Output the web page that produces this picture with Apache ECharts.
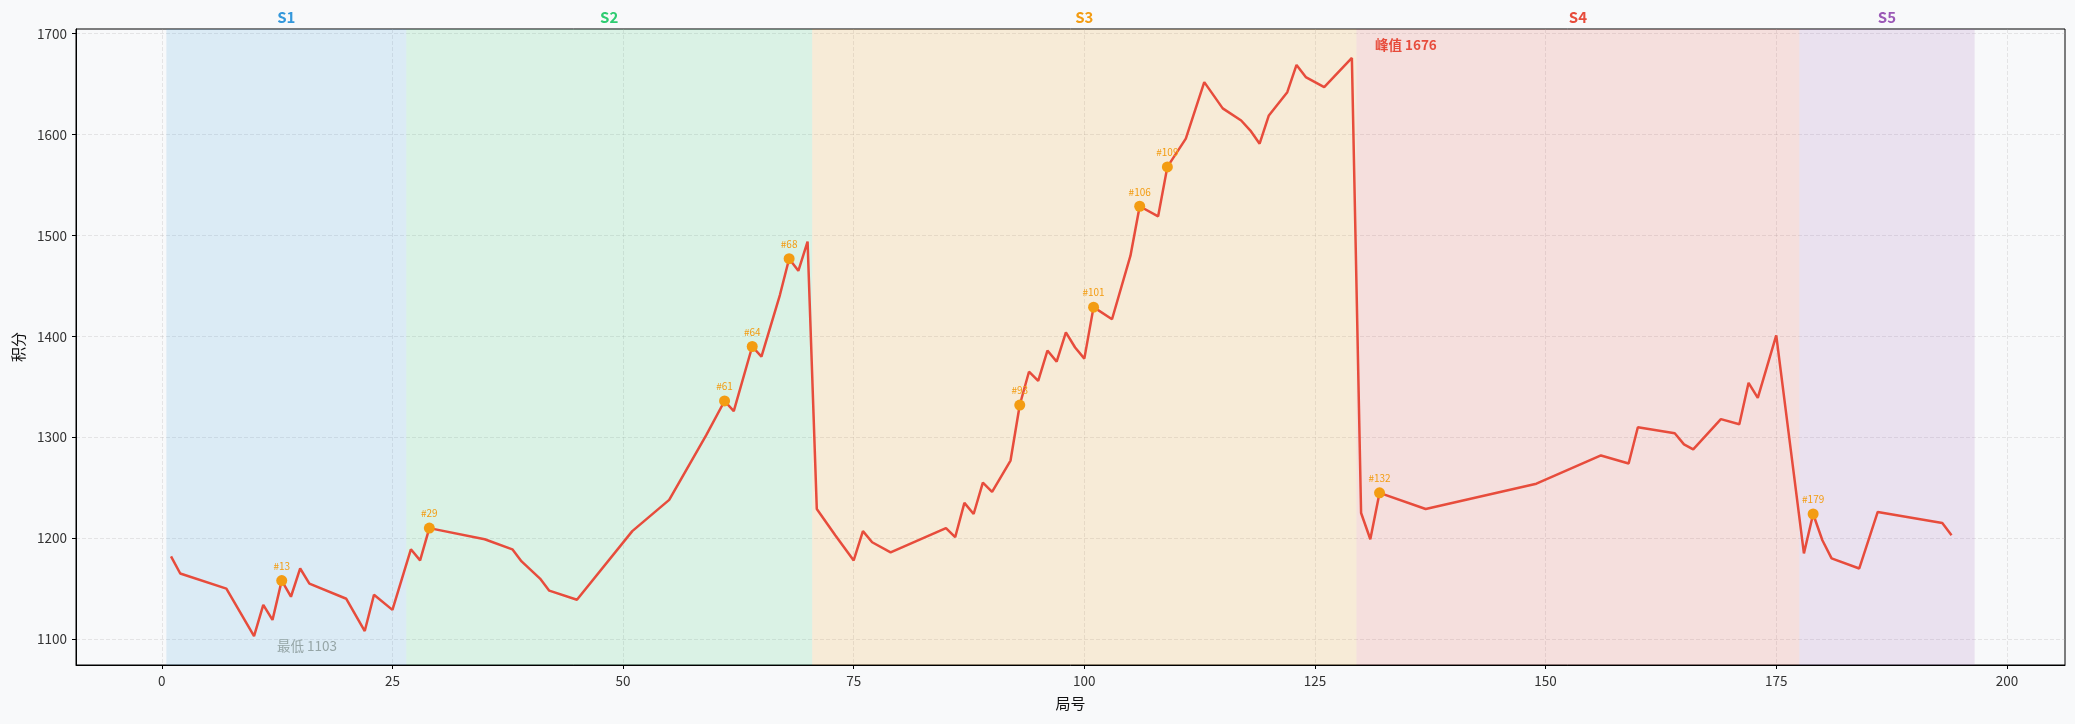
<!DOCTYPE html>
<html>
<head>
<meta charset="utf-8">
<title>积分走势</title>
<script src="https://cdn.jsdelivr.net/npm/echarts@6/dist/echarts.min.js"></script>
<style>
    html, body { margin: 0; padding: 0; background: #f8f9fa; }
    #chart { width: 2075px; height: 724px; }
</style>
</head>
<body>
<div id="chart"></div>
<script>
// 局号 / 积分
var games = [1, 2, 7, 10, 11, 12, 13, 14, 15, 16, 20, 22, 23, 25, 27, 28, 29, 35, 38, 39,
    41, 42, 45, 51, 55, 59, 61, 62, 64, 65, 67, 68, 69, 70, 71, 73, 75, 76, 77, 79,
    85, 86, 87, 88, 89, 90, 92, 93, 94, 95, 96, 97, 98, 99, 100, 101, 103, 105, 106, 108,
    109, 111, 113, 115, 117, 118, 119, 120, 122, 123, 124, 126, 129, 130, 131, 132, 137, 149, 156, 159,
    160, 164, 165, 166, 169, 171, 172, 173, 174, 175, 178, 179, 180, 181, 184, 186, 193, 194];
var scores = [1182, 1165, 1150, 1103, 1134, 1119, 1158, 1142, 1170, 1155, 1140, 1108, 1144, 1129, 1189, 1178, 1210, 1199, 1189, 1177,
    1160, 1148, 1139, 1207, 1238, 1302, 1336, 1326, 1390, 1380, 1441, 1477, 1465, 1494, 1229, 1203, 1178, 1207, 1196, 1186,
    1210, 1201, 1235, 1224, 1255, 1246, 1277, 1332, 1365, 1356, 1386, 1375, 1404, 1389, 1378, 1429, 1417, 1480, 1529, 1519,
    1568, 1596, 1652, 1626, 1614, 1604, 1591, 1619, 1642, 1669, 1657, 1647, 1676, 1225, 1199, 1245, 1229, 1254, 1282, 1274,
    1310, 1304, 1293, 1288, 1318, 1313, 1354, 1339, 1370, 1401, 1185, 1224, 1198, 1180, 1170, 1226, 1215, 1203];

// 标记的局
var highlightGames = [13, 29, 61, 64, 68, 93, 101, 106, 109, 132, 179];

// 赛季
var seasonNames = ['S1', 'S2', 'S3', 'S4', 'S5'];
var seasonStarts = [0.5, 26.5, 70.5, 129.5, 177.5];
var seasonEnds = [26.5, 70.5, 129.5, 177.5, 196.5];
var seasonColors = ['#3498db', '#2ecc71', '#f39c12', '#e74c3c', '#9b59b6'];

var xTicks = [0, 25, 50, 75, 100, 125, 150, 175, 200];
var yTicks = [1100, 1200, 1300, 1400, 1500, 1600, 1700];

var fontName = '"Noto Sans CJK SC", "Noto Sans", sans-serif';

function hexToRgba(hex, a) {
    var r = parseInt(hex.substr(1, 2), 16);
    var g = parseInt(hex.substr(3, 2), 16);
    var b = parseInt(hex.substr(5, 2), 16);
    return 'rgba(' + r + ',' + g + ',' + b + ',' + a + ')';
}

var lineData = [];
for (var i = 0; i < games.length; i++) {
    lineData.push([games[i], scores[i]]);
}

var pointData = [];
for (var k = 0; k < highlightGames.length; k++) {
    var idx = games.indexOf(highlightGames[k]);
    pointData.push([games[idx], scores[idx]]);
}

var bandData = [];
for (var s = 0; s < seasonNames.length; s++) {
    bandData.push([
        {
            name: seasonNames[s],
            xAxis: seasonStarts[s],
            itemStyle: { color: hexToRgba(seasonColors[s], 0.15) },
            label: { color: seasonColors[s] }
        },
        { xAxis: seasonEnds[s] }
    ]);
}

var gridLine = {
    show: true,
    lineStyle: { color: 'rgba(176,176,176,0.35)', width: 0.8, type: [4, 2] }
};

var myChart = echarts.init(document.getElementById('chart'), null, { renderer: 'canvas' });
var option = {
    backgroundColor: '#f8f9fa',
    animation: false,
    textStyle: { fontFamily: fontName },
    grid: {
        left: 76,
        right: 10,
        top: 29,
        bottom: 59,
        show: true,
        backgroundColor: '#f8f9fa',
        borderColor: '#000',
        borderWidth: 1
    },
    xAxis: {
        type: 'value',
        min: -9.3,
        max: 206.3,
        name: '局号',
        nameLocation: 'middle',
        nameGap: 31,
        nameTextStyle: { fontSize: 15, color: '#111', fontFamily: fontName },
        axisLine: { show: true, onZero: false, lineStyle: { color: '#000', width: 1 } },
        axisTick: { show: true, length: 4, customValues: xTicks, lineStyle: { color: '#000' } },
        axisLabel: {
            customValues: xTicks, fontSize: 13.5, color: '#333', margin: 9, fontFamily: fontName,
            formatter: function (v) { return String(v); }
        },
        splitLine: gridLine
    },
    yAxis: {
        type: 'value',
        min: 1074.35,
        max: 1704.65,
        name: '积分',
        nameLocation: 'middle',
        nameGap: 49,
        nameTextStyle: { fontSize: 15, color: '#111', fontFamily: fontName },
        axisLine: { show: true, onZero: false, lineStyle: { color: '#000', width: 1 } },
        axisTick: { show: true, length: 4, customValues: yTicks, lineStyle: { color: '#000' } },
        axisLabel: {
            customValues: yTicks, fontSize: 13.5, color: '#333', margin: 9, fontFamily: fontName,
            formatter: function (v) { return String(v); }
        },
        splitLine: gridLine
    },
    series: [
        {
            name: '积分',
            type: 'line',
            data: lineData,
            symbol: 'none',
            clip: false,
            lineStyle: { color: '#e74c3c', width: 2.5 },
            markArea: {
                silent: true,
                label: {
                    show: true,
                    position: 'top',
                    distance: 4,
                    fontSize: 15,
                    fontWeight: 'bold',
                    fontFamily: fontName,
                    formatter: '{b}'
                },
                data: bandData
            },
            markPoint: {
                silent: true,
                symbol: 'circle',
                symbolSize: 1,
                itemStyle: { color: 'rgba(0,0,0,0)' },
                data: [
                    {
                        type: 'max',
                        label: {
                            show: true,
                            position: 'inside',
                            offset: [54, -13],
                            formatter: '峰值 {c}',
                            color: '#e74c3c',
                            fontSize: 13.5,
                            fontWeight: 'bold',
                            fontFamily: fontName
                        }
                    },
                    {
                        type: 'min',
                        label: {
                            show: true,
                            position: 'inside',
                            offset: [53, 10],
                            formatter: '最低 {c}',
                            color: '#95a5a6',
                            fontSize: 13.5,
                            fontFamily: fontName
                        }
                    }
                ]
            },
            z: 3
        },
        {
            name: '标记',
            type: 'scatter',
            data: pointData,
            symbolSize: 11,
            itemStyle: { color: '#f39c12', opacity: 1 },
            label: {
                show: true,
                position: 'top',
                distance: 4,
                fontSize: 10,
                color: '#f39c12',
                fontFamily: fontName,
                formatter: function (p) { return '#' + p.value[0]; }
            },
            z: 4
        }
    ]
};
myChart.setOption(option);
</script>
</body>
</html>
